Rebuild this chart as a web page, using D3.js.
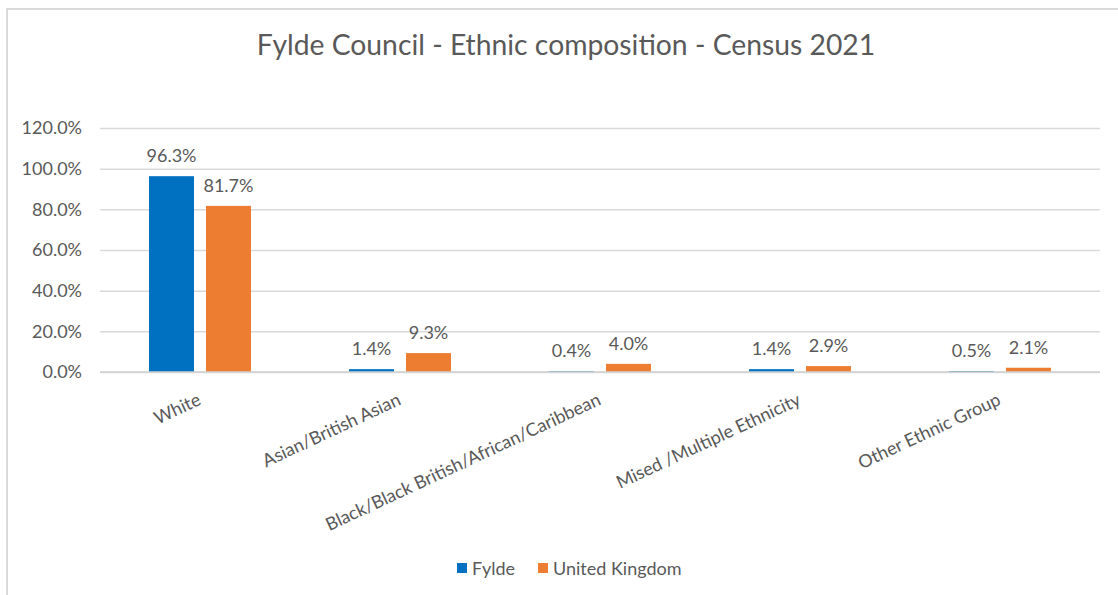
<!DOCTYPE html>
<html>
<head>
<meta charset="utf-8">
<script src="https://cdn.jsdelivr.net/npm/d3@7"></script>
<style>
  body { margin: 0; background: #fff; }
  text { font-family: Lato, "Noto Sans", sans-serif; fill: #595959; }
</style>
</head>
<body>
<div id="chart"></div>
<script>
// data
let categories = ["White", "Asian/British Asian", "Black/Black British/African/Caribbean", "Mised /Multiple Ethnicity", "Other Ethnic Group"];
let seriesNames = ["Fylde", "United Kingdom"];
let fyldeValues = [0.963, 0.014, 0.004, 0.014, 0.005];
let ukValues = [0.817, 0.093, 0.040, 0.029, 0.021];
let yTicks = [0, 0.2, 0.4, 0.6, 0.8, 1.0, 1.2];
let colors = ["#0070C0", "#ED7D31"];

let width = 1118, height = 595;
let margin = {top: 128, right: 18, bottom: 223, left: 100};

let svg = d3.select("#chart")
    .append("svg")
    .attr("width", width)
    .attr("height", height);

// chart border
svg.append("path")
    .attr("d", `M7,${height} V9 H${width}`)
    .attr("fill", "none")
    .attr("stroke", "#d9d9d9")
    .attr("stroke-width", 2);

svg.append("text")
    .attr("x", 566)
    .attr("y", 55)
    .attr("text-anchor", "middle")
    .style("font-size", "28.3px")
    .text("Fylde Council - Ethnic composition - Census 2021");

let x0 = d3.scaleBand()
    .domain(categories)
    .range([margin.left, width - margin.right])
    .paddingInner(0.49)
    .paddingOuter(0.245);

let x1 = d3.scaleBand()
    .domain(seriesNames)
    .range([0, x0.bandwidth()])
    .paddingInner(0.21);

let y = d3.scaleLinear()
    .domain([0, 1.2])
    .range([height - margin.bottom, margin.top]);

// gridlines + y labels
let yAxis = svg.append("g")
    .attr("transform", `translate(${margin.left}, 0)`)
    .call(d3.axisLeft(y)
        .tickValues(yTicks)
        .tickFormat(d3.format(".1%"))
        .tickSize(-(width - margin.left - margin.right))
        .tickPadding(18));
yAxis.select(".domain").remove();
yAxis.selectAll("line").attr("stroke", "#d9d9d9").attr("stroke-width", 1.5);
yAxis.selectAll("text")
    .style("font-size", "18px")
    .style("font-family", "Lato, sans-serif")
    .attr("fill", "#595959");

let rows = categories.map((c, i) => ({cat: c, vals: [fyldeValues[i], ukValues[i]]}));

let groups = svg.selectAll(".grp")
    .data(rows)
    .enter()
    .append("g")
    .attr("transform", d => `translate(${x0(d.cat)}, 0)`);

let cells = groups.selectAll("g")
    .data(d => d.vals.map((v, j) => ({name: seriesNames[j], value: v, idx: j})))
    .enter()
    .append("g");

cells.append("rect")
    .attr("x", d => x1(d.name))
    .attr("y", d => y(d.value))
    .attr("width", x1.bandwidth())
    .attr("height", d => y(0) - y(d.value))
    .attr("fill", d => colors[d.idx]);

cells.append("text")
    .attr("x", d => x1(d.name) + x1.bandwidth() / 2)
    .attr("y", d => y(d.value) - 14)
    .attr("text-anchor", "middle")
    .style("font-size", "18px")
    .text(d => d3.format(".1%")(d.value));

// x axis line
svg.append("line")
    .attr("x1", margin.left)
    .attr("x2", width - margin.right)
    .attr("y1", y(0))
    .attr("y2", y(0))
    .attr("stroke", "#d0d0d0")
    .attr("stroke-width", 1.5);

// rotated category labels
svg.append("g").selectAll("text")
    .data(categories)
    .enter()
    .append("text")
    .attr("text-anchor", "end")
    .attr("transform", d => `translate(${x0(d) + x0.bandwidth() / 2 + 2}, ${y(0) + 32}) rotate(-25)`)
    .style("font-size", "18px")
    .text(d => d);

// legend
let legend = svg.append("g").attr("transform", "translate(457, 575)");
let legX = [0, 81];
seriesNames.forEach(function(s, i) {
    legend.append("rect")
        .attr("x", legX[i])
        .attr("y", -12)
        .attr("width", 10)
        .attr("height", 10)
        .attr("fill", colors[i]);
    legend.append("text")
        .attr("x", legX[i] + 15)
        .attr("y", 0)
        .style("font-size", "18px")
        .text(s);
});
</script>
</body>
</html>
